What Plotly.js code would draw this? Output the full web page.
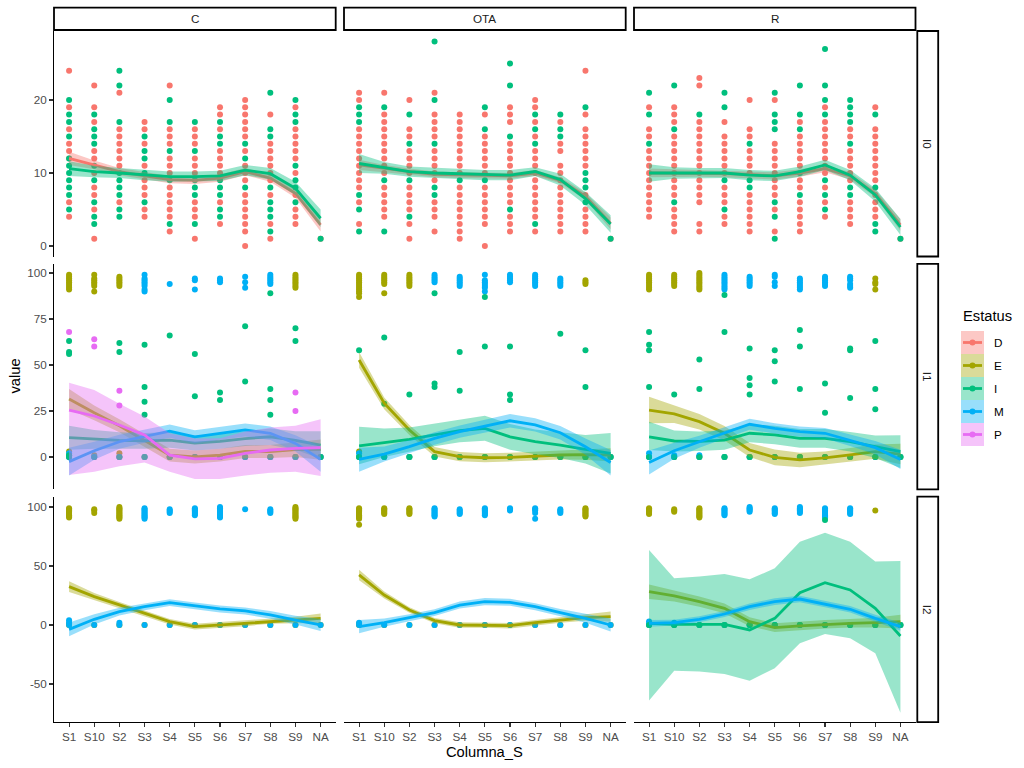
<!DOCTYPE html>
<html><head><meta charset="utf-8">
<script src="https://cdn.plot.ly/plotly-3.0.1.min.js"></script>
<style>html,body{margin:0;padding:0;background:#fff}#chart{width:1024px;height:768px}</style>
</head><body><div id="chart"></div>
<script>
// ---------- categories / facets ----------
const cats = ['S1','S10','S2','S3','S4','S5','S6','S7','S8','S9','NA'];
const facetCols = ['C','OTA','R'];
const facetRows = ['I0','I1','I2'];
const statuses = ['D','E','I','M','P'];
const yTicks = [[0,10,20],[0,25,50,75,100],[-50,0,50,100]];

// ---------- points (one list of values per category) ----------
// Row I0
const I0_C_D = [[24,19,16,14,13,12,6,4],[22,19,17,13,12,10,8,7,5,1],[21,16,15,14,13,12,11,6],[17,16,14,11,9,8,7,5,4],[22,16,15,14,12,11,10,8,7,6,5,4,2],[16,15,14,12,11,10,6,5,4,1],[19,18,16,13,12,11,10,6,3],[20,19,18,17,16,15,13,11,10,9,7,6,5,4,3,2,0],[18,14,13,12,11,10,9,7,3,1],[19,16,15,14,13,12,10,7,5,4,3],[1]];
const I0_C_I = [[20,18,17,15,12,11,10,9,8,7,5],[18,16,15,14,11,9,6,4,3],[24,22,17,10,9,8,7,5,4],[15,13,12,10,6],[20,17,13,9,3],[17,13,9,8,7,3],[17,15,14,9,8,7,5,4],[14,12,8],[21,16,15,8,6,5,4,2],[20,18,17,11,9,8,6],[1]];
const I0_OTA_D = [[21,20,16,15,14,13,12,11,10,9,8,6,3],[21,18,17,16,15,14,13,12,11,10,8,7,6,5,4],[20,16,15,13,12,11,10,8,7,6,5,3,1],[21,18,17,16,15,13,12,11,10,9,6,5,4,2],[18,17,16,15,14,13,12,11,10,8,7,6,5,4,3,2,1],[18,15,14,13,12,11,10,8,7,6,5,4,3,0],[19,18,17,14,13,12,11,10,9,8,7,6,4,3,2],[20,19,17,15,13,12,11,10,9,8,7,6,5,4,2],[17,14,13,11,10,9,8,7,6,5,4,3,2],[24,18,16,15,14,13,12,11,7,5,4,3,2],[1]];
const I0_OTA_I = [[19,18,17,7,5,2],[19,9,2],[18,14,9,4],[28,20,14,8,7],[9],[19,16,9],[25,22,15,5],[18,16,14,3],[18,16,15],[19,10,9,8,6],[1]];
const I0_R_D = [[19,16,15,13,12,11,10,9,8,7,6,5,4],[19,18,17,15,14,13,12,11,10,9,8,7,5,4,3,2],[23,22,17,16,15,14,13,12,11,10,9,8,7,6,3,2],[17,15,14,13,12,11,10,8,7,6,4,3],[20,16,15,13,12,11,10,7,6,5,4,3,2],[20,14,13,12,11,10,9,8,7,5,2],[17,15,14,13,12,11,9,8,6,5,4,3,2],[19,17,16,15,14,13,12,11,10,8,6,4],[16,15,13,12,11,10,9,6,5,4,3],[19,16,15,14,13,12,11,10,9,7,6,5,4],[1]];
const I0_R_I = [[21,18,14],[22,16,6],[18],[21,19,9,5],[14,9,8],[21,18,17,16,6,4,1],[22,18,16,10,7],[27,22,20,18,9,7,5],[20,19,18,17,14,8,7],[18,8,3,2],[1]];
// Row I1
const I1_C_E = [[99,98,97,96,95,94,93,92,91,3,1,0],[99,97,96,95,94,93,90,1,0],[98,97,96,95,94,93,2,0],[0],[0],[0],[0],[0],[0],[99,98,97,96,95,94,93,92,0],[0]];
const I1_C_I = [[63,57,56,1,0],[0],[62,57,0],[61,38,30,23,0],[66,0],[56,33,0],[35,31,0],[71,41,0],[89,37,31,23,0],[70,63,0],[0]];
const I1_C_M = [[2,0],[0],[0],[99,97,96,95,94,93,91,90,0],[94,0],[97,96,91,0],[97,96,95,0],[98,95,92,0],[99,98,97,96,95,94,0],[0],[0]];
const I1_C_P = [[68,0],[64,60,0],[36,28,0],[],[0],[0],[0],[0],[0],[35,25,0],[0]];
const I1_OTA_E = [[99,98,97,96,95,94,93,92,91,90,89,87,3,0],[99,98,97,96,95,94,89,0],[99,98,97,96,95,94,93,0],[0],[0],[0],[0],[0],[0],[96,95,94,0],[0]];
const I1_OTA_I = [[58,0],[65,29,0],[34,0],[89,40,38,0],[57,36,0],[87,60,0],[60,34,31,0],[0],[67,0],[58,38,0],[0]];
const I1_OTA_M = [[2,0],[0],[0],[99,98,97,96,95,0],[98,97,96,95,94,93,0],[99,96,95,94,93,92,90,0],[99,98,97,96,95,0],[99,98,97,96,95,94,93,0],[97,96,95,94,93,0],[0],[0]];
const I1_R_E = [[99,98,97,96,95,94,93,92,91,0],[99,98,97,96,95,94,93,0],[100,99,98,97,96,95,94,93,92,91,0],[0],[0],[0],[0],[0],[0],[97,95,94,91,0],[0]];
const I1_R_I = [[68,61,58,38,0],[34,0],[53,37,0],[88,68,0],[59,43,39,34,0],[58,52,41,0],[69,60,37,0],[40,24,0],[59,58,32,0],[63,37,26,0],[0]];
const I1_R_M = [[2,0],[1,0],[1,0],[99,98,97,96,95,94,93,92,91,0],[98,97,96,95,94,93,0],[99,98,95,93,0],[97,96,95,94,93,92,91,0],[98,97,96,95,94,93,0],[98,97,96,94,93,92,0],[0],[0]];
// Row I2
const I2_C_E = [[99,98,97,96,95,94,93,92,91,1,0],[98,97,95,0],[100,99,98,97,96,95,94,93,92,91,90,0],[0],[0],[0],[0],[0],[0],[100,99,98,97,96,95,94,93,92,91,90,0],[0]];
const I2_C_M = [[4,2,0],[0],[2,0],[99,98,97,96,95,94,93,92,91,90,0],[98,97,96,95,0],[99,98,97,96,95,94,93,0],[100,99,98,97,96,95,94,93,92,91,0],[98,0],[98,97,96,95,0],[0],[0]];
const I2_OTA_E = [[99,98,97,96,95,94,93,92,91,90,85,1,0],[99,98,97,96,95,94,0],[99,98,97,96,95,94,0],[0],[0],[0],[0],[0],[0],[99,98,97,96,95,94,93,92,0],[0]];
const I2_OTA_M = [[2,0],[0],[0],[99,98,97,96,95,94,93,92,0],[98,97,96,95,94,0],[99,98,97,96,95,94,93,0],[99,98,97,0],[99,98,97,95,90,0],[98,97,96,95,0],[0],[0]];
const I2_R_E = [[99,98,97,96,95,94,0],[98,97,96,0],[99,98,97,96,95,94,93,92,91,0],[0],[0],[0],[0],[0],[0],[97,0],[0]];
const I2_R_I = [[0],[0],[0],[0],[0],[0],[0],[89,0],[0],[0],[0]];
const I2_R_M = [[3,1,0],[2,0],[0],[99,98,97,96,95,94,93,0],[100,99,98,97,96,0],[99,98,97,96,95,94,0],[100,99,98,97,96,95,0],[99,98,97,96,95,94,93,92,91,0],[99,98,97,96,95,94,0],[0],[0]];

// ---------- smoothers (fit, lower, upper per category) ----------
const I0_C_D_fit = [12.0,11.1,10.2,9.6,9.1,9.0,9.3,10.2,9.3,7.2,2.9];
const I0_C_D_lo  = [11.1,10.5,9.7,9.1,8.6,8.5,8.8,9.7,8.8,6.6,2.0];
const I0_C_D_hi  = [12.9,11.7,10.7,10.1,9.6,9.5,9.8,10.7,9.8,7.8,3.8];
const I0_C_I_fit = [10.6,10.2,10.0,9.7,9.5,9.5,9.6,10.4,9.9,7.9,3.8];
const I0_C_I_lo  = [9.6,9.4,9.3,9.0,8.8,8.8,8.9,9.7,9.1,7.0,2.6];
const I0_C_I_hi  = [11.6,11.0,10.7,10.4,10.2,10.2,10.3,11.1,10.7,8.8,5.0];
const I0_OTA_D_fit = [11.1,10.6,10.2,9.8,9.7,9.6,9.6,10.0,9.0,6.8,3.1];
const I0_OTA_D_lo  = [10.4,10.1,9.8,9.4,9.3,9.2,9.2,9.6,8.6,6.3,2.3];
const I0_OTA_D_hi  = [11.8,11.1,10.6,10.2,10.1,10.0,10.0,10.4,9.4,7.3,3.9];
const I0_OTA_I_fit = [11.3,10.7,10.2,10.0,9.9,9.7,9.7,10.2,9.1,6.5,3.0];
const I0_OTA_I_lo  = [10.0,9.9,9.5,9.3,9.2,9.0,9.0,9.6,8.3,5.6,1.8];
const I0_OTA_I_hi  = [12.6,11.5,10.9,10.7,10.6,10.4,10.4,10.8,9.9,7.4,4.2];
const I0_R_D_fit = [10.0,10.0,10.0,9.9,9.8,9.6,10.0,10.6,9.6,7.2,2.9];
const I0_R_D_lo  = [9.4,9.5,9.5,9.4,9.3,9.1,9.5,10.1,9.1,6.7,2.1];
const I0_R_D_hi  = [10.6,10.5,10.5,10.4,10.3,10.1,10.5,11.1,10.1,7.7,3.7];
const I0_R_I_fit = [10.0,10.0,10.0,10.0,9.7,9.6,10.2,11.1,9.7,7.0,2.6];
const I0_R_I_lo  = [8.8,9.2,9.3,9.3,9.0,8.9,9.5,10.4,9.0,6.1,1.5];
const I0_R_I_hi  = [11.2,10.8,10.7,10.7,10.4,10.3,10.9,11.8,10.4,7.9,3.7];

const I1_C_E_fit = [31.5,24,17,9,1,0,1,3,3,4,4];
const I1_C_E_lo  = [26,20,13.5,5.5,-2.5,-3.5,-2.5,-0.5,-0.5,0,-1.5];
const I1_C_E_hi  = [37,28,20.5,12.5,4.5,3.5,4.5,6.5,6.5,8,9.5];
const I1_C_I_fit = [10.5,9.6,9.0,8.8,9.2,7.5,8.5,10.0,11.0,9.0,6.5];
const I1_C_I_lo  = [4,4.5,4.5,4.5,5,3.5,4.5,6,6.5,4,-1];
const I1_C_I_hi  = [17,14.7,13.5,13,13.4,11.5,12.5,14,15.5,14,14];
const I1_C_M_fit = [-2.5,3.4,8.3,11.4,14.1,11.0,12.9,14.7,12.9,7.4,-1.3];
const I1_C_M_lo  = [-10,-1.5,4.5,7.8,10.5,7.5,9.4,11.2,9.2,3,-8];
const I1_C_M_hi  = [5,8.3,12.1,15,17.7,14.5,16.4,18.2,16.6,11.8,5.4];
const I1_C_P_fit = [25.5,22.3,17.4,12,1,-1,-0.7,2,3.8,4.7,5.1];
const I1_C_P_lo  = [-9.8,-8,-5,-3,-8,-12,-12,-10,-8.5,-8,-10.3];
const I1_C_P_hi  = [40.4,36.4,29,22,12.9,10.1,10.2,13.8,16,17,20.5];
const I1_OTA_E_fit = [52.7,29.2,14.7,2.9,0.2,-0.4,-0.2,0.5,1.1,1.3,1.1];
const I1_OTA_E_lo  = [48.5,26,12,0.3,-2.3,-2.9,-2.7,-2,-1.4,-1.5,-2.5];
const I1_OTA_E_hi  = [57,32.4,17.4,5.5,2.7,2.1,2.3,3,3.6,4.1,4.7];
const I1_OTA_I_fit = [6,7.8,9.6,12,14.3,15.6,11,8.3,6.5,4.2,2];
const I1_OTA_I_lo  = [-4,0,3,5.8,8,8.8,4,1.5,-0.5,-3.5,-9];
const I1_OTA_I_hi  = [16.5,15.5,16,18.2,20.6,22.4,18,15,13.5,12,13];
const I1_OTA_M_fit = [-1.3,1.6,5.6,10.1,13.8,16.8,19.7,17.4,13.2,5.6,-3];
const I1_OTA_M_lo  = [-8,-2.5,2,6.7,10.5,13.3,16,13.8,9.5,1.2,-10];
const I1_OTA_M_hi  = [5,5.7,9.2,13.5,17.1,20.3,23.4,21,16.9,10,3.8];
const I1_R_E_fit = [25.5,23.4,19.2,12.9,3.8,-0.2,-1.6,-0.5,1.1,2.9,1.6];
const I1_R_E_lo  = [18.3,18.5,15,9,0,-4.5,-5.5,-4,-2.5,-1,-4];
const I1_R_E_hi  = [32.8,28.3,23.4,16.8,7.6,4.1,2.3,3,4.7,6.8,7.2];
const I1_R_I_fit = [11,8.7,8.5,9.2,12.9,12,10.1,10.1,8.3,5.6,2.9];
const I1_R_I_lo  = [3.8,3,3.2,4,8,7,5,5,3,-0.5,-6];
const I1_R_I_hi  = [19.2,14.4,13.8,14.4,17.8,17,15.2,15.2,13.6,11.7,11.8];
const I1_R_M_fit = [-3,3.4,8.3,13.2,17.8,15.6,13.8,12.9,9.2,5.1,-1.3];
const I1_R_M_lo  = [-9.5,-1,5,10,14.8,12.8,11,10,6,1.5,-6.5];
const I1_R_M_hi  = [3.5,7.8,11.6,16.4,20.8,18.4,16.6,15.8,12.4,8.7,3.9];

const I2_C_E_fit = [32.5,24,17,9.9,2.8,-1.4,0,1.4,3.4,4.2,5.6];
const I2_C_E_lo  = [28,21,14.5,7.5,0.5,-3.8,-2.4,-1,1,1.5,1.5];
const I2_C_E_hi  = [37,27,19.5,12.3,5.1,1,2.4,3.8,5.8,6.9,9.7];
const I2_C_M_fit = [-3.7,4.8,11.3,15.5,18.9,16.1,13.6,11.9,8.5,4.2,0];
const I2_C_M_lo  = [-9.5,0.5,8,12.5,16,13.1,10.6,8.9,5.2,0.5,-5];
const I2_C_M_hi  = [2.1,9.1,14.6,18.5,21.8,19.1,16.6,14.9,11.8,7.9,5];
const I2_OTA_E_fit = [42.4,25.4,12.7,3.7,0,0,-0.6,2,4.2,6.2,7.1];
const I2_OTA_E_lo  = [38,22.5,10.3,1.5,-2.3,-2.3,-2.9,-0.3,1.8,3.5,2.8];
const I2_OTA_E_hi  = [46.8,28.3,15.1,5.9,2.3,2.3,1.7,4.3,6.6,8.9,11.4];
const I2_OTA_M_fit = [-1.4,2,6.2,10.5,16.9,19.8,19.2,15.5,10.5,5.6,0];
const I2_OTA_M_lo  = [-7,-1.5,3.2,7.6,14,16.8,16.2,12.5,7.5,2,-5.5];
const I2_OTA_M_hi  = [4.2,5.5,9.2,13.4,19.8,22.8,22.2,18.5,13.5,9.2,5.5];
const I2_R_E_fit = [28.2,24.6,19.8,14.1,2.8,-2.3,-0.8,0.6,1.4,2,2.8];
const I2_R_E_lo  = [22,20,15.5,10,-1,-6,-4.5,-3,-2.2,-2.2,-3];
const I2_R_E_hi  = [34.4,29.2,24.1,18.2,6.6,1.4,2.9,4.2,5,6.2,8.6];
const I2_R_I_fit = [1.4,0.6,0.6,0.6,-4.2,5.6,27.4,35.9,29.7,14.1,-9.3];
const I2_R_I_lo  = [-64.1,-38.7,-39.5,-41.5,-47.2,-36.7,-15.5,-7.6,-11.3,-24,-74.3];
const I2_R_I_hi  = [63.6,39.5,41,43.2,38.7,48,70.6,78.2,70.6,53.7,54.2];
const I2_R_M_fit = [1.4,2,4.8,9.3,15.5,19.8,22,17.8,13.3,5.6,-1.4];
const I2_R_M_lo  = [-1.5,-0.5,2.3,6.8,12.8,17,19.2,15,10.5,2.6,-4.8];
const I2_R_M_hi  = [4.3,4.5,7.3,11.8,18.2,22.6,24.8,20.6,16.1,8.6,2];

// ---------- panel registry built from the arrays ----------
const panels = [
 {r:0,c:0,pts:{D:I0_C_D,I:I0_C_I},sm:{D:[I0_C_D_fit,I0_C_D_lo,I0_C_D_hi],I:[I0_C_I_fit,I0_C_I_lo,I0_C_I_hi]}},
 {r:0,c:1,pts:{D:I0_OTA_D,I:I0_OTA_I},sm:{D:[I0_OTA_D_fit,I0_OTA_D_lo,I0_OTA_D_hi],I:[I0_OTA_I_fit,I0_OTA_I_lo,I0_OTA_I_hi]}},
 {r:0,c:2,pts:{D:I0_R_D,I:I0_R_I},sm:{D:[I0_R_D_fit,I0_R_D_lo,I0_R_D_hi],I:[I0_R_I_fit,I0_R_I_lo,I0_R_I_hi]}},
 {r:1,c:0,pts:{E:I1_C_E,I:I1_C_I,M:I1_C_M,P:I1_C_P},sm:{E:[I1_C_E_fit,I1_C_E_lo,I1_C_E_hi],I:[I1_C_I_fit,I1_C_I_lo,I1_C_I_hi],M:[I1_C_M_fit,I1_C_M_lo,I1_C_M_hi],P:[I1_C_P_fit,I1_C_P_lo,I1_C_P_hi]}},
 {r:1,c:1,pts:{E:I1_OTA_E,I:I1_OTA_I,M:I1_OTA_M},sm:{E:[I1_OTA_E_fit,I1_OTA_E_lo,I1_OTA_E_hi],I:[I1_OTA_I_fit,I1_OTA_I_lo,I1_OTA_I_hi],M:[I1_OTA_M_fit,I1_OTA_M_lo,I1_OTA_M_hi]}},
 {r:1,c:2,pts:{E:I1_R_E,I:I1_R_I,M:I1_R_M},sm:{E:[I1_R_E_fit,I1_R_E_lo,I1_R_E_hi],I:[I1_R_I_fit,I1_R_I_lo,I1_R_I_hi],M:[I1_R_M_fit,I1_R_M_lo,I1_R_M_hi]}},
 {r:2,c:0,pts:{E:I2_C_E,M:I2_C_M},sm:{E:[I2_C_E_fit,I2_C_E_lo,I2_C_E_hi],M:[I2_C_M_fit,I2_C_M_lo,I2_C_M_hi]}},
 {r:2,c:1,pts:{E:I2_OTA_E,M:I2_OTA_M},sm:{E:[I2_OTA_E_fit,I2_OTA_E_lo,I2_OTA_E_hi],M:[I2_OTA_M_fit,I2_OTA_M_lo,I2_OTA_M_hi]}},
 {r:2,c:2,pts:{E:I2_R_E,I:I2_R_I,M:I2_R_M},sm:{E:[I2_R_E_fit,I2_R_E_lo,I2_R_E_hi],I:[I2_R_I_fit,I2_R_I_lo,I2_R_I_hi],M:[I2_R_M_fit,I2_R_M_lo,I2_R_M_hi]}}
];

// ---------- styling / geometry ----------
const W = 1024, H = 768;
const FONT = 'Liberation Sans, Arial, sans-serif';
const colX = [[54,335.7],[344,625.7],[634,915.5]];
const rowY = [[31,256.5],[263.8,489.3],[496.6,722.1]];
const yRange = [[-1.44,29.45],[-17.55,105],[-82.3,108.8]];
const colors = {D:'#F8766D',E:'#A3A500',I:'#00BF7D',M:'#00B0F6',P:'#E76BF3'};
const fills = {D:'rgba(248,118,109,0.4)',E:'rgba(163,165,0,0.4)',I:'rgba(0,191,125,0.4)',M:'rgba(0,176,246,0.4)',P:'rgba(231,107,243,0.4)'};
const pointOrder = ['D','E','P','M','I'];
const smoothOrder = ['D','E','I','M','P'];
const px = x => x / W;
const py = y => 1 - y / H;

const traces = [];
const layout = {
  width: W, height: H, margin: {l:0,r:0,t:0,b:0},
  paper_bgcolor: '#fff', plot_bgcolor: '#fff', showlegend: false,
  font: {family: FONT, color: '#000'}, annotations: [], shapes: []
};

panels.forEach(p => {
  const k = p.r * 3 + p.c + 1;
  const xa = k === 1 ? 'x' : 'x' + k, ya = k === 1 ? 'y' : 'y' + k;
  pointOrder.forEach(s => {
    const d = p.pts[s]; if (!d) return;
    const xs = [], ys = [];
    d.forEach((lst, i) => lst.forEach(v => { xs.push(cats[i]); ys.push(v); }));
    traces.push({type:'scatter', mode:'markers', x:xs, y:ys, xaxis:xa, yaxis:ya,
      marker:{color:colors[s], size:6, line:{width:0}}, hoverinfo:'skip', showlegend:false});
  });
  smoothOrder.forEach(s => {
    const d = p.sm[s]; if (!d) return;
    const [fit, lo, hi] = d;
    traces.push({type:'scatter', mode:'lines', x:cats.concat(cats.slice().reverse()),
      y:hi.concat(lo.slice().reverse()), xaxis:xa, yaxis:ya, fill:'toself',
      fillcolor:fills[s], line:{width:0, color:'rgba(0,0,0,0)'}, hoverinfo:'skip', showlegend:false});
    traces.push({type:'scatter', mode:'lines', x:cats, y:fit, xaxis:xa, yaxis:ya,
      line:{color:colors[s], width:2.8}, hoverinfo:'skip', showlegend:false});
  });
  const bottom = p.r === 2, left = p.c === 0;
  layout['xaxis' + (k === 1 ? '' : k)] = {
    domain:[px(colX[p.c][0]), px(colX[p.c][1])], anchor:ya, type:'category',
    categoryorder:'array', categoryarray:cats, range:[-0.6,10.6],
    showgrid:false, zeroline:false, showline:bottom, linecolor:'#000', linewidth:1.07,
    ticks: bottom ? 'outside' : '', ticklen:3.7, tickwidth:1.07, tickcolor:'#333',
    showticklabels:bottom, tickfont:{family:FONT, size:11.7, color:'#4D4D4D'}, fixedrange:true
  };
  layout['yaxis' + (k === 1 ? '' : k)] = {
    domain:[py(rowY[p.r][1]), py(rowY[p.r][0])], anchor:xa, range:yRange[p.r],
    tickmode:'array', tickvals:yTicks[p.r], ticktext:yTicks[p.r].map(String),
    showgrid:false, zeroline:false, showline:left, linecolor:'#000', linewidth:1.07,
    ticks: left ? 'outside' : '', ticklen:3.7, tickwidth:1.07, tickcolor:'#333',
    showticklabels:left, tickfont:{family:FONT, size:11.7, color:'#4D4D4D'}, fixedrange:true
  };
});

// strips
facetCols.forEach((name, c) => {
  layout.shapes.push({type:'rect', xref:'paper', yref:'paper', x0:px(colX[c][0]), x1:px(colX[c][1]),
    y0:py(30), y1:py(7.6), line:{color:'#000', width:1.8}, fillcolor:'#fff'});
  layout.annotations.push({xref:'paper', yref:'paper', x:px((colX[c][0]+colX[c][1])/2), y:py(18.8),
    text:name, showarrow:false, font:{family:FONT, size:11.7, color:'#1A1A1A'}, xanchor:'center', yanchor:'middle'});
});
facetRows.forEach((name, r) => {
  layout.shapes.push({type:'rect', xref:'paper', yref:'paper', x0:px(917.3), x1:px(938.2),
    y0:py(rowY[r][1]), y1:py(rowY[r][0]), line:{color:'#000', width:1.8}, fillcolor:'#fff'});
  layout.annotations.push({xref:'paper', yref:'paper', x:px(927.7), y:py((rowY[r][0]+rowY[r][1])/2),
    text:name, textangle:90, showarrow:false, font:{family:FONT, size:11.7, color:'#1A1A1A'}, xanchor:'center', yanchor:'middle'});
});

// axis titles
layout.annotations.push({xref:'paper', yref:'paper', x:px(14), y:py(376.5), text:'value', textangle:-90,
  showarrow:false, font:{family:FONT, size:14.7, color:'#000'}, xanchor:'center', yanchor:'middle'});
layout.annotations.push({xref:'paper', yref:'paper', x:px(484.7), y:py(751.5), text:'Columna_S',
  showarrow:false, font:{family:FONT, size:14.7, color:'#000'}, xanchor:'center', yanchor:'middle'});

// legend
layout.annotations.push({xref:'paper', yref:'paper', x:px(960.5), y:py(316), text:'Estatus',
  showarrow:false, font:{family:FONT, size:14.7, color:'#000'}, xanchor:'left', yanchor:'middle'});
statuses.forEach((s, i) => {
  const top = 331 + i * 23, cy = top + 11.5;
  layout.shapes.push({type:'rect', xref:'paper', yref:'paper', x0:px(961), x1:px(984), y0:py(top+23), y1:py(top),
    line:{width:0}, fillcolor:fills[s]});
  layout.shapes.push({type:'line', xref:'paper', yref:'paper', x0:px(963), x1:px(982), y0:py(cy), y1:py(cy),
    line:{color:colors[s], width:2.8}});
  layout.shapes.push({type:'circle', xref:'paper', yref:'paper', x0:px(969.5), x1:px(975.5), y0:py(cy+3), y1:py(cy-3),
    line:{width:0}, fillcolor:colors[s]});
  layout.annotations.push({xref:'paper', yref:'paper', x:px(991.5), y:py(cy), text:s,
    showarrow:false, font:{family:FONT, size:11.7, color:'#000'}, xanchor:'left', yanchor:'middle'});
});

Plotly.newPlot('chart', traces, layout, {staticPlot:true, displayModeBar:false});
</script></body></html>
